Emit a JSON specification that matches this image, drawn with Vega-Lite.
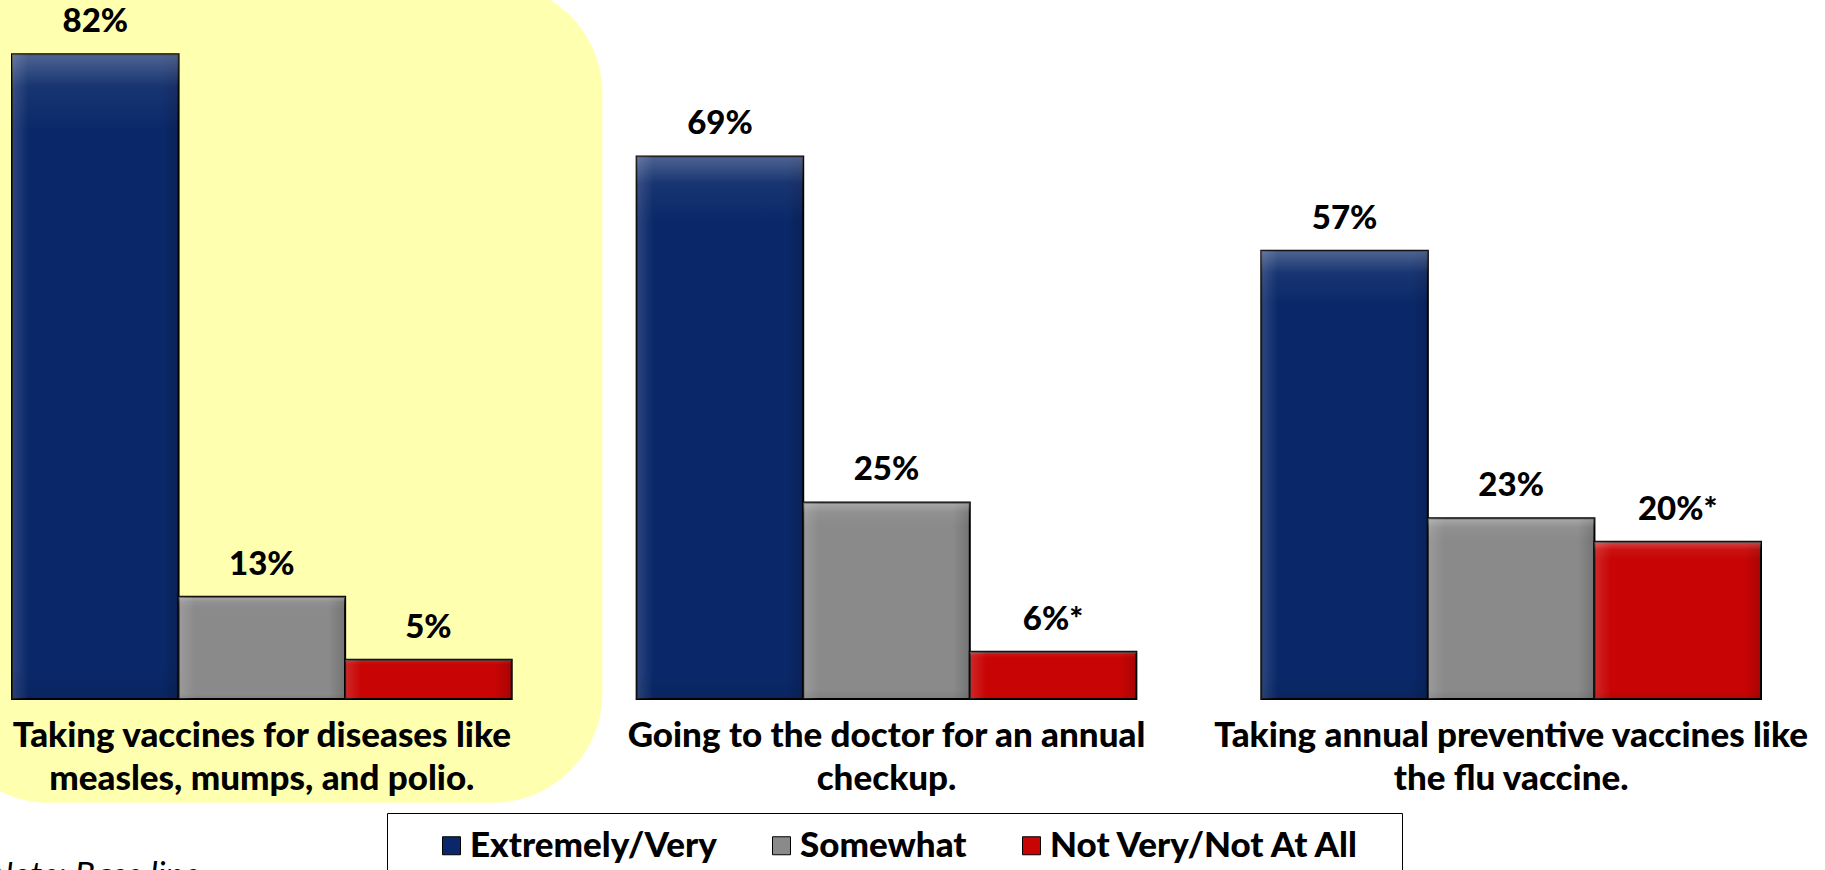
{
  "$schema": "https://vega.github.io/schema/vega-lite/v6.json",
  "width": 1749,
  "height": 692,
  "autosize": {"type": "none"},
  "padding": {"left": 12, "top": 7, "right": 64, "bottom": 171},
  "background": "white",
  "config": {"view": {"stroke": null}, "font": "Lato"},
  "title": {"text": "Note: Base line", "orient": "bottom", "anchor": "start", "fontStyle": "italic", "fontWeight": "normal", "fontSize": 34, "font": "Lato", "color": "black", "dx": 50, "offset": -20, "baseline": "top"},
  "datasets": {
    "bars": [
      {"category": "Taking vaccines for diseases like measles, mumps, and polio.", "series": "Extremely/Very", "value": 82, "label": "82%"},
      {"category": "Taking vaccines for diseases like measles, mumps, and polio.", "series": "Somewhat", "value": 13, "label": "13%"},
      {"category": "Taking vaccines for diseases like measles, mumps, and polio.", "series": "Not Very/Not At All", "value": 5, "label": "5%"},
      {"category": "Going to the doctor for an annual checkup.", "series": "Extremely/Very", "value": 69, "label": "69%"},
      {"category": "Going to the doctor for an annual checkup.", "series": "Somewhat", "value": 25, "label": "25%"},
      {"category": "Going to the doctor for an annual checkup.", "series": "Not Very/Not At All", "value": 6, "label": "6%*"},
      {"category": "Taking annual preventive vaccines like the flu vaccine.", "series": "Extremely/Very", "value": 57, "label": "57%"},
      {"category": "Taking annual preventive vaccines like the flu vaccine.", "series": "Somewhat", "value": 23, "label": "23%"},
      {"category": "Taking annual preventive vaccines like the flu vaccine.", "series": "Not Very/Not At All", "value": 20, "label": "20%*"}
    ],
    "highlight": [
      {"category": "Taking vaccines for diseases like measles, mumps, and polio.", "top": 91, "bottom": -13.2}
    ]
  },
  "layer": [
    {
      "data": {"name": "highlight"},
      "mark": {"type": "bar", "color": "#FFFFB0", "cornerRadius": 110, "width": {"band": 1.327}, "xOffset": 9},
      "encoding": {
        "x": {"field": "category", "type": "nominal",
          "scale": {"domain": ["Taking vaccines for diseases like measles, mumps, and polio.", "Going to the doctor for an annual checkup.", "Taking annual preventive vaccines like the flu vaccine."], "paddingInner": 0.2, "paddingOuter": 0},
          "axis": {"title": null, "domain": false, "ticks": false, "zindex": 1, "labelAngle": 0, "labelFontSize": 35, "labelFont": "Lato", "labelFontWeight": 900, "labelColor": "black", "labelLineHeight": 43, "labelPadding": 19, "labelLimit": 0,
            "labelExpr": "datum.label == 'Taking vaccines for diseases like measles, mumps, and polio.' ? ['Taking vaccines for diseases like', 'measles, mumps, and polio.'] : datum.label == 'Going to the doctor for an annual checkup.' ? ['Going to the doctor for an annual', 'checkup.'] : ['Taking annual preventive vaccines like', 'the flu vaccine.']"}},
        "y": {"field": "top", "type": "quantitative", "scale": {"domain": [0, 88], "nice": false, "zero": false}, "axis": null},
        "y2": {"field": "bottom"}
      }
    },
    {
      "data": {"name": "bars"},
      "mark": {"type": "bar", "stroke": "black", "strokeWidth": 2},
      "encoding": {
        "x": {"field": "category", "type": "nominal"},
        "xOffset": {"field": "series", "type": "nominal", "scale": {"domain": ["Extremely/Very", "Somewhat", "Not Very/Not At All"], "paddingInner": 0, "paddingOuter": 0}},
        "y": {"field": "value", "type": "quantitative"},
        "color": {
          "field": "series", "type": "nominal",
          "scale": {"domain": ["Extremely/Very", "Somewhat", "Not Very/Not At All"], "range": ["#0A2869", "#8A8A8A", "#C80404"]},
          "legend": {
            "orient": "none", "legendX": 375, "legendY": 806, "direction": "horizontal",
            "title": " ", "titleOrient": "left", "titlePadding": 32, "titleFontSize": 1,
            "padding": 15, "strokeColor": "black", "fillColor": "white",
            "symbolType": "square", "symbolSize": 324, "symbolStrokeColor": "black", "symbolStrokeWidth": 1,
            "labelFont": "Lato", "labelFontSize": 35, "labelFontWeight": 900, "labelColor": "black",
            "labelOffset": 1, "columnPadding": 47, "labelLimit": 0,
            "labelExpr": "datum.label == 'Not Very/Not At All' ? datum.label + '\u2800' : datum.label"
          }
        }
      }
    },
    {
      "data": {"name": "bars"},
      "mark": {"type": "bar", "strokeWidth": 0,
        "color": {"gradient": "linear", "x1": 0, "y1": 0, "x2": 1, "y2": 0, "stops": [
          {"offset": 0, "color": "rgba(255,255,255,0.14)"},
          {"offset": 0.1, "color": "rgba(255,255,255,0)"},
          {"offset": 0.9, "color": "rgba(0,0,0,0)"},
          {"offset": 1, "color": "rgba(0,0,0,0.16)"}]}},
      "encoding": {
        "x": {"field": "category", "type": "nominal"},
        "xOffset": {"field": "series", "type": "nominal"},
        "y": {"field": "value", "type": "quantitative"}
      }
    },
    {
      "data": {"name": "bars"},
      "mark": {"type": "bar", "strokeWidth": 0,
        "color": {"gradient": "linear", "x1": 0, "y1": 0, "x2": 0, "y2": 1, "stops": [
          {"offset": 0, "color": "rgba(255,255,255,0.28)"},
          {"offset": 0.05, "color": "rgba(255,255,255,0.06)"},
          {"offset": 0.12, "color": "rgba(255,255,255,0)"},
          {"offset": 0.95, "color": "rgba(0,0,0,0)"},
          {"offset": 1, "color": "rgba(0,0,0,0.08)"}]}},
      "encoding": {
        "x": {"field": "category", "type": "nominal"},
        "xOffset": {"field": "series", "type": "nominal"},
        "y": {"field": "value", "type": "quantitative"}
      }
    },
    {
      "data": {"name": "bars"},
      "mark": {"type": "text", "dy": -22, "baseline": "alphabetic", "fontSize": 33, "fontWeight": 900, "font": "Lato", "color": "black"},
      "encoding": {
        "x": {"field": "category", "type": "nominal"},
        "xOffset": {"field": "series", "type": "nominal"},
        "y": {"field": "value", "type": "quantitative"},
        "text": {"field": "label"}
      }
    }
  ]
}
